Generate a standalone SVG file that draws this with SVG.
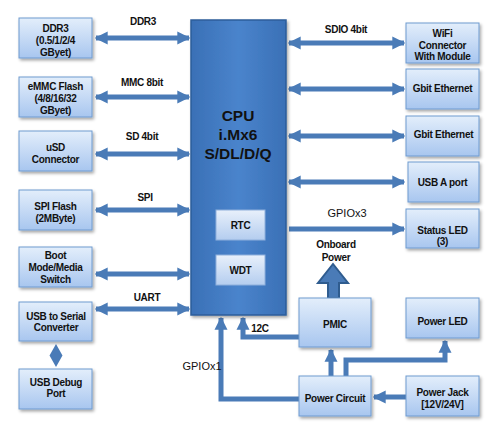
<svg xmlns="http://www.w3.org/2000/svg" width="502" height="433" viewBox="0 0 502 433">
<defs>
<linearGradient id="ng" x1="0" y1="0" x2="0" y2="1">
<stop offset="0" stop-color="#e3eefb"/>
<stop offset="1" stop-color="#a8c6ef"/>
</linearGradient>
<linearGradient id="ig" x1="0" y1="0" x2="0" y2="1">
<stop offset="0" stop-color="#e8f0fb"/>
<stop offset="1" stop-color="#b4cdef"/>
</linearGradient>
<linearGradient id="cg" x1="0" y1="0" x2="1" y2="0">
<stop offset="0" stop-color="#3a70b6"/>
<stop offset="0.5" stop-color="#4a84cc"/>
<stop offset="1" stop-color="#3a70b6"/>
</linearGradient>
<filter id="sh" x="-10%" y="-10%" width="130%" height="130%">
<feDropShadow dx="1.5" dy="2" stdDeviation="1.5" flood-color="#000" flood-opacity="0.35"/>
</filter>
<marker id="ah" viewBox="0 0 10 10" refX="9" refY="5" markerWidth="2.6" markerHeight="2.8" orient="auto-start-reverse" markerUnits="strokeWidth">
<path d="M0,0 L10,5 L0,10 Z" fill="#4a7bb7"/>
</marker>
</defs>
<style>
.n{fill:url(#ng);stroke:#6f9bd0;stroke-width:1;filter:url(#sh)}
.i{fill:url(#ig);stroke:#8fb0dc;stroke-width:1}
.t{font-family:"Liberation Sans",Arial,sans-serif;font-weight:bold;font-size:10px;letter-spacing:-0.3px;fill:#111;text-anchor:middle}
.l{font-family:"Liberation Sans",Arial,sans-serif;font-weight:bold;font-size:10px;letter-spacing:-0.3px;fill:#111;text-anchor:middle}
.g{font-family:"Liberation Sans",Arial,sans-serif;font-size:11px;fill:#111;text-anchor:middle}
.c{font-family:"Liberation Sans",Arial,sans-serif;font-weight:bold;font-size:15.5px;fill:#111;text-anchor:middle}
.b{fill:none;stroke:#4a7bb7;stroke-width:5;marker-end:url(#ah);marker-start:url(#ah)}
.e{fill:none;stroke:#4a7bb7;stroke-width:5;marker-end:url(#ah)}
</style>
<rect width="502" height="433" fill="#fff"/>

<g id="connectors">
<line class="b" x1="96" y1="38" x2="189" y2="38"/>
<line class="b" x1="96" y1="97" x2="189" y2="97"/>
<line class="b" x1="96" y1="154" x2="189" y2="154"/>
<line class="b" x1="96" y1="210" x2="189" y2="210"/>
<line class="b" x1="96" y1="274" x2="189" y2="274"/>
<line class="b" x1="96" y1="309" x2="189" y2="309"/>
<line class="b" x1="289" y1="43" x2="404" y2="43"/>
<line class="b" x1="289" y1="89" x2="404" y2="89"/>
<line class="b" x1="289" y1="136" x2="404" y2="136"/>
<line class="b" x1="289" y1="182" x2="404" y2="182"/>
<line class="e" x1="289" y1="229" x2="404" y2="229"/>
<polyline class="e" points="299,337 243,337 243,318"/>
<polyline class="e" points="299,399 221,399 221,318"/>
<line class="e" x1="331" y1="376" x2="331" y2="350"/>
<polyline class="e" points="346,376 346,360 445,360 445,341"/>
<line class="e" x1="406" y1="397" x2="374" y2="397"/>
<path d="M56,344 L62.5,355.5 L56,367 L49.5,355.5 Z" fill="#4a7bb7"/>
<path d="M328,298 L328,283 L318,283 L333,264 L348,283 L339,283 L339,298 Z" fill="#4a7bb7" stroke="#2f5c8f" stroke-width="2"/>
<text class="l" x="143" y="25">DDR3</text>
<text class="l" x="142" y="86">MMC 8bit</text>
<text class="l" x="142" y="140">SD 4bit</text>
<text class="l" x="145" y="201">SPI</text>
<text class="l" x="147" y="301">UART</text>
<text class="l" x="346" y="33">SDIO 4bit</text>
<text class="g" x="347" y="217">GPIOx3</text>
<text class="l" x="336" y="248">Onboard</text>
<text class="l" x="336" y="261">Power</text>
<text class="l" x="260" y="332">12C</text>
<text class="g" x="202" y="370">GPIOx1</text>
</g>

<g id="cpu">
<rect x="191" y="20" width="95" height="295" fill="url(#cg)" stroke="#2d5d9a" stroke-width="1.5" filter="url(#sh)"/>
<text class="c" x="238" y="121">CPU</text>
<text class="c" x="238" y="140">i.Mx6</text>
<text class="c" x="238" y="159">S/DL/D/Q</text>
</g>
<g id="rtc"><rect class="i" x="216" y="210" width="49" height="30"/><text class="t" x="240.5" y="229">RTC</text></g>
<g id="wdt"><rect class="i" x="216" y="255" width="49" height="30"/><text class="t" x="240.5" y="274">WDT</text></g>

<g id="ddr3"><rect class="n" x="19" y="18" width="73" height="40"/><text class="t" x="55.5" y="32">DDR3</text><text class="t" x="55.5" y="44">(0.5/1/2/4</text><text class="t" x="55.5" y="56">GByet)</text></g>
<g id="emmc"><rect class="n" x="19" y="77" width="73" height="40"/><text class="t" x="55.5" y="90">eMMC Flash</text><text class="t" x="55.5" y="102">(4/8/16/32</text><text class="t" x="55.5" y="114">GByet)</text></g>
<g id="usd"><rect class="n" x="19" y="131" width="73" height="40"/><text class="t" x="55.5" y="151">uSD</text><text class="t" x="55.5" y="163">Connector</text></g>
<g id="spi"><rect class="n" x="19" y="190" width="73" height="40"/><text class="t" x="55.5" y="210">SPI Flash</text><text class="t" x="55.5" y="222">(2MByte)</text></g>
<g id="boot"><rect class="n" x="19" y="247" width="73" height="40"/><text class="t" x="55.5" y="259">Boot</text><text class="t" x="55.5" y="271">Mode/Media</text><text class="t" x="55.5" y="283">Switch</text></g>
<g id="usbser"><rect class="n" x="19" y="302" width="73" height="39"/><text class="t" x="56" y="320">USB to Serial</text><text class="t" x="56" y="331">Converter</text></g>
<g id="usbdbg"><rect class="n" x="19" y="369" width="73" height="40"/><text class="t" x="56" y="386">USB Debug</text><text class="t" x="56" y="397">Port</text></g>

<g id="wifi"><rect class="n" x="406" y="23" width="73" height="40"/><text class="t" x="442.5" y="37">WiFi</text><text class="t" x="442.5" y="49">Connector</text><text class="t" x="442.5" y="60">With Module</text></g>
<g id="eth1"><rect class="n" x="406" y="69" width="73" height="40"/><text class="t" x="442.5" y="92">Gbit Ethernet</text></g>
<g id="eth2"><rect class="n" x="406" y="116" width="73" height="40"/><text class="t" x="443.5" y="138">Gbit Ethernet</text></g>
<g id="usba"><rect class="n" x="408" y="162" width="71" height="40"/><text class="t" x="442.5" y="186">USB A port</text></g>
<g id="statusled"><rect class="n" x="406" y="209" width="73" height="39"/><text class="t" x="442.5" y="234">Status LED</text><text class="t" x="442.5" y="245">(3)</text></g>
<g id="powerled"><rect class="n" x="406" y="298" width="73" height="40"/><text class="t" x="442.5" y="325">Power LED</text></g>
<g id="powerjack"><rect class="n" x="406" y="376" width="73" height="40"/><text class="t" x="442.5" y="396">Power Jack</text><text class="t" x="442.5" y="408">[12V/24V]</text></g>
<g id="pmic"><rect class="n" x="299" y="298" width="72" height="49"/><text class="t" x="335" y="328">PMIC</text></g>
<g id="powercircuit"><rect class="n" x="299" y="376" width="72" height="40"/><text class="t" x="335" y="402">Power Circuit</text></g>
</svg>
